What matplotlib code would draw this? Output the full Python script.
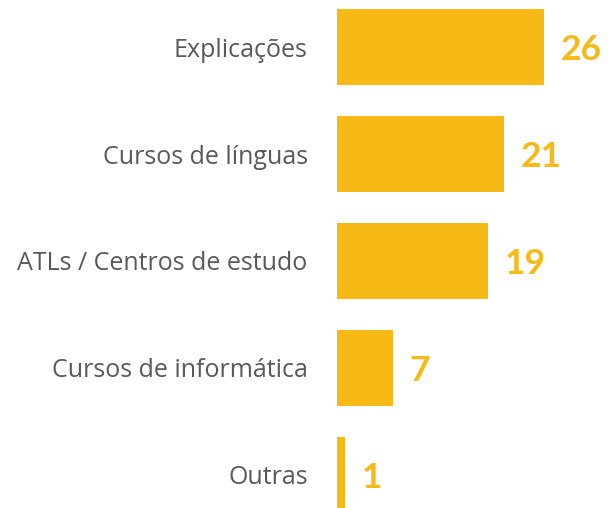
import matplotlib.pyplot as plt

# ------------------ Data ------------------
categories = ["Explicações", "Cursos de línguas", "ATLs / Centros de estudo",
              "Cursos de informática", "Outras"]
values = [26, 21, 19, 7, 1]

bar_color = "#F7B916"
label_color = "#595959"

# ------------------ Plot ------------------
fig = plt.figure(figsize=(6.08, 5.08), dpi=100)
ax = fig.add_axes([0.554, 0.0, 0.44, 1.0])

pos = list(range(len(categories)))
bars = ax.barh(pos, values, height=0.71, color=bar_color)

ax.set_xlim(0, 33.6)
ax.set_ylim(4.31, -0.44)

ax.set_yticks(pos)
ax.set_yticklabels(categories, fontsize=18, color=label_color, family="Open Sans")
ax.tick_params(axis="y", length=0, pad=21)
ax.set_xticks([])
for s in ax.spines.values():
    s.set_visible(False)

# value labels next to each bar
for b, v in zip(bars, values):
    ax.annotate(str(v), (b.get_width(), b.get_y() + b.get_height() / 2),
                xytext=(12, 0), textcoords="offset points",
                ha="left", va="center_baseline", fontsize=25.5,
                fontweight="bold", color=bar_color, family="Lato")

fig.savefig("out.png", dpi=100)
